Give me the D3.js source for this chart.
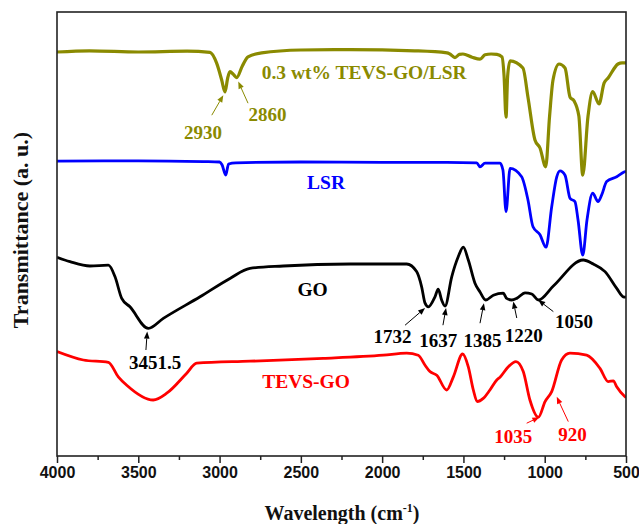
<!DOCTYPE html>
<html>
<head>
<meta charset="utf-8">
<script src="https://cdn.jsdelivr.net/npm/d3@7"></script>
<style>
  body { margin: 0; background: #fff; }
  svg { display: block; }
</style>
</head>
<body>
<svg id="chart" width="639" height="524"></svg>
<script>
// wavenumber ticks
const majorTicks = [4000, 3500, 3000, 2500, 2000, 1500, 1000, 500];
const minorTicks = [3750, 3250, 2750, 2250, 1750, 1250, 750];

// spectra, [wavenumber, transmittance a.u.]
const tevsLsr = [[4000,101],[3800,101.3],[3500,101],[3200,101.2],[3059,100.9],[3018,98.2],[2987,94],[2967,91],[2950,94.5],[2936,96.1],[2915,95.4],[2895,94.6],[2860,97.5],[2825,99.8],[2741,100.8],[2500,101.5],[2200,101.6],[1800,101.3],[1601,100.8],[1583,100.5],[1552,99.6],[1525,100.4],[1503,100.5],[1447,99.7],[1398,99.2],[1367,100.3],[1330,100.5],[1294,100.4],[1263,99.8],[1250,95],[1238,84.7],[1228,95],[1213,98.8],[1134,97],[1103,89.7],[1060,79],[1029,77],[994,72.3],[970,85],[949,94],[912,98],[875,97],[844,89.7],[820,88.8],[790,85],[766,70.2],[734,84.8],[705,91.1],[666,88],[635,93.2],[610,94.5],[549,98],[524,98.3],[500,98.3]];

const lsr = [[4000,73.7],[3500,73.8],[3100,73.6],[3000,73.5],[2985,72.8],[2962,70.2],[2945,73],[2900,73.3],[2500,73.5],[2000,73.4],[1600,73.4],[1418,73.3],[1398,72.3],[1367,73.2],[1275,73.2],[1257,71.5],[1238,61.1],[1213,71.9],[1142,69.8],[1103,64],[1072,57.3],[1029,55.3],[992,52.2],[957,62.3],[926,69.8],[906,71.3],[875,70.2],[844,64.4],[814,63.6],[795,59],[766,50.2],[740,59],[705,65.7],[672,63.6],[650,65.2],[619,68.6],[557,69.8],[512,71],[500,71.2]];

const go = [[4000,49.7],[3920,48.6],[3797,47.5],[3684,47.7],[3643,44.8],[3602,39.4],[3551,37.3],[3438,31.9],[3346,34.4],[3120,39.8],[2936,44.4],[2813,46.9],[2608,47.5],[2196,48],[1849,48],[1788,46.1],[1757,42.3],[1736,38.2],[1716,37.3],[1675,39.8],[1655,41.7],[1634,39],[1613,37.5],[1572,44.8],[1532,49.8],[1501,52.2],[1470,49],[1429,43.2],[1398,41],[1363,39],[1316,40.2],[1255,40.7],[1234,39.4],[1203,39],[1172,39.4],[1121,40.8],[1080,40.5],[1039,39],[947,42.5],[763,49],[701,48],[629,46.1],[557,41.9],[517,39.8],[500,39.7]];

const tevsGo = [[4000,26.1],[3838,24],[3684,23.4],[3623,19.8],[3571,17.7],[3408,14],[3325,15.7],[3202,20.7],[3141,23.2],[2813,23.7],[2362,24.4],[1993,25.2],[1849,25.7],[1778,25.2],[1736,22.7],[1706,21.1],[1664,20.2],[1603,16.5],[1562,19.8],[1505,25.5],[1470,22.3],[1439,16.5],[1415,13.6],[1378,14.4],[1337,16.5],[1295,19],[1275,19.7],[1224,22.3],[1177,23.6],[1132,21.1],[1091,14],[1039,9.7],[998,13.6],[957,16.1],[896,24],[845,25.7],[742,25.2],[660,21.9],[609,18.6],[578,18.8],[557,17.3],[506,14.8],[500,14.6]];

const seriesNames = ["0.3 wt% TEVS-GO/LSR", "LSR", "GO", "TEVS-GO"];
const seriesColors = ["#8a8a00", "#0000ff", "#000000", "#ff0000"];
const seriesData = [tevsLsr, lsr, go, tevsGo];
// where each curve name sits [wavenumber, a.u.]
const nameAt = [[2741, 94.2, "start"], [2345, 66.7, "middle"], [2428, 40, "middle"], [2468, 17, "middle"]];

// peak labels: text, series index, text pos, arrow tail, arrow tip
const peaks = [
  ["2930", 0, [3102, 79.2], [3048, 85.2], [2977, 90.2]],
  ["2860", 0, [2705, 83.7], [2825, 88.2], [2885, 93.6]],
  ["3451.5", 2, [3397, 21.7], [3453, 26.5], [3445, 31.1]],
  ["1732", 2, [1936, 28.2], [1859, 32.7], [1736, 37]],
  ["1637", 2, [1655, 27.2], [1626, 32.7], [1607, 37]],
  ["1385", 2, [1383, 27.2], [1398, 33.2], [1374, 38.2]],
  ["1220", 2, [1129, 28.5], [1172, 34.5], [1193, 38.6]],
  ["1050", 2, [820, 32.1], [947, 36.1], [1040, 39]],
  ["1035", 3, [1193, 3.2], [1111, 8.2], [1033, 9.7]],
  ["920", 3, [829, 3.7], [855, 8.6], [926, 14.8]]
];

const svg = d3.select("#chart");
const margin = {left: 57, right: 13, top: 12, bottom: 68};
const W = 639, H = 524;

const x = d3.scaleLinear().domain([4000, 500]).range([margin.left, W - margin.right]);
const y = d3.scaleLinear().domain([0, 111]).range([H - margin.bottom, margin.top]);

const serif = "'Liberation Serif', 'Times New Roman', serif";
const sans = "'Liberation Sans', Arial, sans-serif";

svg.append("clipPath").attr("id", "plot")
  .append("rect")
  .attr("x", margin.left).attr("y", margin.top)
  .attr("width", W - margin.left - margin.right)
  .attr("height", H - margin.top - margin.bottom);

const line = d3.line()
  .x(d => x(d[0]))
  .y(d => y(d[1]))
  .curve(d3.curveMonotoneX);

const g = svg.append("g").attr("clip-path", "url(#plot)");
seriesData.forEach(function(data, i) {
  g.append("path")
    .datum(data)
    .attr("fill", "none")
    .attr("stroke", seriesColors[i])
    .attr("stroke-width", i === 0 ? 3.2 : 2.8)
    .attr("stroke-linejoin", "round")
    .attr("d", line);
});

// frame
svg.append("rect")
  .attr("x", margin.left).attr("y", margin.top)
  .attr("width", W - margin.left - margin.right)
  .attr("height", H - margin.top - margin.bottom)
  .attr("fill", "none").attr("stroke", "#222").attr("stroke-width", 1.6);

// bottom axis
const xAxis = svg.append("g")
  .attr("transform", `translate(0,${H - margin.bottom})`)
  .call(d3.axisBottom(x).tickValues(majorTicks).tickSize(7).tickPadding(4).tickFormat(d3.format("d")));
xAxis.select(".domain").remove();
xAxis.selectAll(".tick line").attr("stroke", "#222").attr("stroke-width", 1.5);
xAxis.selectAll(".tick text")
  .attr("font-family", sans).attr("font-weight", "bold").attr("font-size", 16).attr("fill", "#111");

const xMinor = svg.append("g")
  .attr("transform", `translate(0,${H - margin.bottom})`)
  .call(d3.axisBottom(x).tickValues(minorTicks).tickSize(4).tickFormat(""));
xMinor.select(".domain").remove();
xMinor.selectAll(".tick line").attr("stroke", "#222").attr("stroke-width", 1.5);

// axis titles
const xt = svg.append("text")
  .attr("x", (margin.left + W - margin.right) / 2 + 0.5)
  .attr("y", 520)
  .attr("text-anchor", "middle")
  .attr("font-family", serif).attr("font-weight", "bold").attr("font-size", 20)
  .attr("fill", "#111");
xt.append("tspan").text("Wavelength (cm");
xt.append("tspan").attr("dy", -8).attr("font-size", 12).text("-1");
xt.append("tspan").attr("dy", 8).text(")");

svg.append("text")
  .attr("transform", "translate(28,230) rotate(-90)")
  .attr("text-anchor", "middle")
  .attr("font-family", serif).attr("font-weight", "bold").attr("font-size", 22)
  .attr("fill", "#111")
  .text("Transmittance (a. u.)");

// series names
seriesNames.forEach(function(name, i) {
  svg.append("text")
    .attr("x", x(nameAt[i][0])).attr("y", y(nameAt[i][1]))
    .attr("text-anchor", nameAt[i][2])
    .attr("font-family", serif).attr("font-weight", "bold").attr("font-size", 19.5)
    .attr("fill", seriesColors[i])
    .text(name);
});

// peak labels with arrows
function arrow(sel, from, to, color) {
  const x1 = x(from[0]), y1 = y(from[1]), x2 = x(to[0]), y2 = y(to[1]);
  const a = Math.atan2(y2 - y1, x2 - x1);
  const len = 7, wid = 2.8;
  const bx = x2 - len * Math.cos(a), by = y2 - len * Math.sin(a);
  sel.append("line")
    .attr("x1", x1).attr("y1", y1).attr("x2", bx).attr("y2", by)
    .attr("stroke", color).attr("stroke-width", 1);
  sel.append("path")
    .attr("d", `M${x2},${y2}L${bx + wid * Math.sin(a)},${by - wid * Math.cos(a)}L${bx - wid * Math.sin(a)},${by + wid * Math.cos(a)}Z`)
    .attr("fill", color);
}

const pk = svg.append("g");
peaks.forEach(function(p) {
  const color = seriesColors[p[1]];
  arrow(pk, p[3], p[4], color);
  pk.append("text")
    .attr("x", x(p[2][0])).attr("y", y(p[2][1]))
    .attr("text-anchor", "middle")
    .attr("font-family", serif).attr("font-weight", "bold").attr("font-size", 19)
    .attr("fill", color)
    .text(p[0]);
});
</script>
</body>
</html>
